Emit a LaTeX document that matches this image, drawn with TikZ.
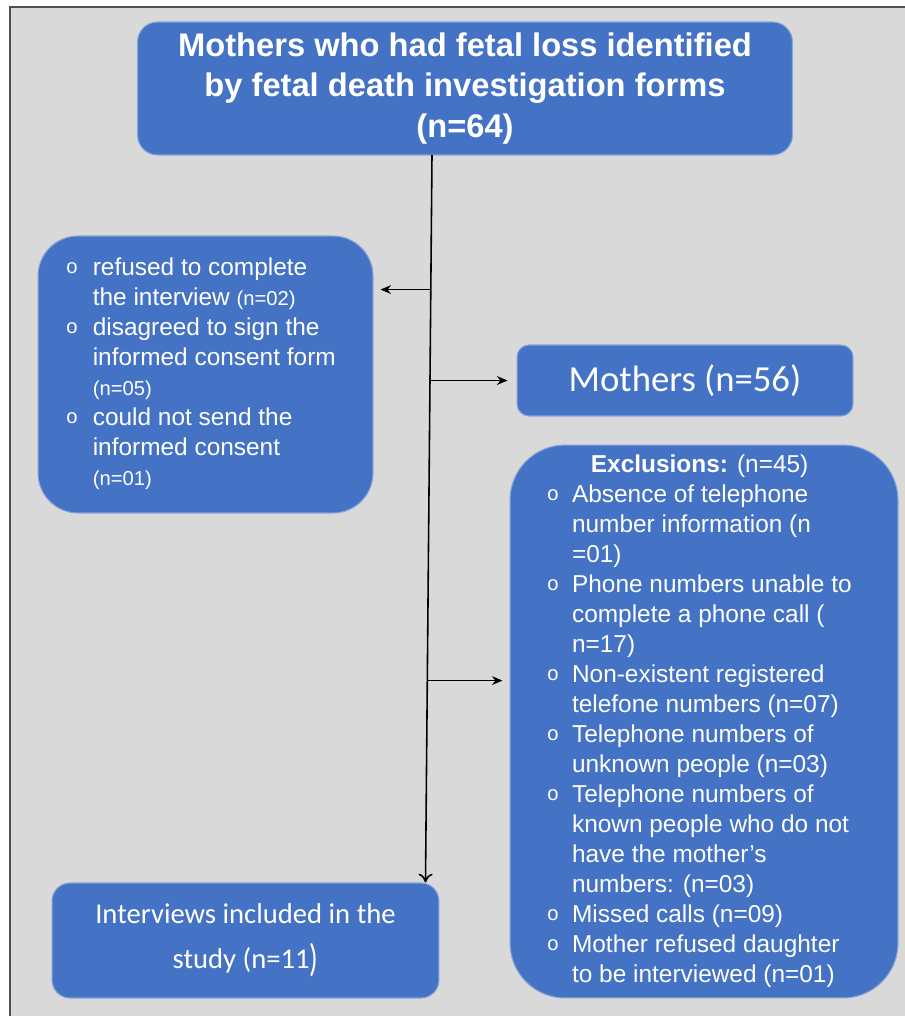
\documentclass[tikz,border=0pt]{standalone}
\usepackage{fontspec}
\setmainfont{Liberation Sans}
\newfontfamily\calfont{Carlito}
\usetikzlibrary{arrows.meta,calc}

\definecolor{boxblue}{HTML}{4472C4}
\definecolor{boxedge}{HTML}{86A3D8}
\definecolor{panel}{HTML}{D9D9D9}
\definecolor{frameline}{HTML}{505050}

\newcommand{\bul}{\raisebox{0.15ex}{\fontsize{11.5}{11.5}\selectfont o}}
\newcommand{\sm}[1]{{\fontsize{11.5}{11.5}\selectfont #1}}

\begin{document}
\begin{tikzpicture}[x=0.02cm, y=-0.02cm,
    box/.style={fill=boxblue, draw=boxedge, line width=0.6pt, text=white, inner sep=0pt},
    lst/.style={font=\fontsize{13.9}{17.1}\selectfont},
    arr/.style={line width=0.9pt, -{Stealth[length=6pt,width=5pt]}}
]
\useasboundingbox (0,0) rectangle (904,1016);
\fill[panel] (10,7) rectangle (930,1030);
\draw[frameline, line width=1.1pt] (930,7) -- (10,7) -- (10,1030);

\node[box, rounded corners=0.4cm, minimum width=13.1cm, minimum height=2.66cm, align=center,
      font=\bfseries\fontsize{18.6}{23.3}\selectfont] (forms) at (465,88.5)
      {Mothers who had fetal loss identified\\by fetal death investigation forms\\(n=64)};
\node[box, lst, rounded corners=0.8cm, minimum width=6.7cm, minimum height=5.54cm] (refused) at (205.5,374.5)
      {\begin{tabular}{@{}p{15pt}@{}l@{}}
      \bul & refused to complete\\
           & the interview \sm{(n=02)}\\
      \bul & disagreed to sign the\\
           & informed consent form\\
           & \sm{(n=05)}\\
      \bul & could not send the\\
           & informed consent\\
           & \sm{(n=01)}
      \end{tabular}\hspace*{5pt}};
\node[box, rounded corners=0.24cm, minimum width=6.72cm, minimum height=1.42cm,
      font=\calfont\fontsize{20.9}{25}\selectfont] (mothers) at (685,380.5) {Mothers (n=56)};
\node[box, lst, rounded corners=1.1cm, minimum width=7.76cm, minimum height=11.06cm] (excl) at (704,721.5)
      {\begin{tabular}{@{}p{14pt}@{}l@{}}
      \multicolumn{2}{c}{\textbf{Exclusions:} (n=45)}\\
      \bul & Absence of telephone\\
           & number information (n\\
           & =01)\\
      \bul & Phone numbers unable to\\
           & complete a phone call (\\
           & n=17)\\
      \bul & Non-existent registered\\
           & telefone numbers (n=07)\\
      \bul & Telephone numbers of\\
           & unknown people (n=03)\\
      \bul & Telephone numbers of\\
           & known people who do not\\
           & have the mother’s\\
           & numbers: (n=03)\\
      \bul & Missed calls (n=09)\\
      \bul & Mother refused daughter\\
           & to be interviewed (n=01)
      \end{tabular}\hspace*{5pt}};
\node[box, rounded corners=0.36cm, minimum width=7.74cm, minimum height=2.3cm, align=center,
      font=\calfont\fontsize{16.3}{25.6}\selectfont] (included) at (245.5,940.5)
      {Interviews included in the\\study (n=11\raisebox{-0.25ex}{\scalebox{1}[1.35]{)}}};

% trunk and branches
\coordinate (trunktop) at (432,155);
\coordinate (trunkend) at ($(included.north east)+(-14,0)$);
\coordinate (b1) at ($(trunktop)!0.185!(trunkend)$);
\coordinate (b2) at ($(trunktop)!0.31!(trunkend)$);
\coordinate (b3) at ($(trunktop)!0.7225!(trunkend)$);
\draw[line width=0.9pt, -{To[length=5pt,width=8pt]}] (trunktop) -- (trunkend);
\draw[arr] (b1) -- ($(b1 -| refused.east)+(7,0)$);
\draw[arr] (b2) -- ($(b2 -| mothers.west)+(-9,0)$);
\draw[arr] (b3) -- ($(b3 -| excl.west)+(-7,0)$);

\end{tikzpicture}
\end{document}
